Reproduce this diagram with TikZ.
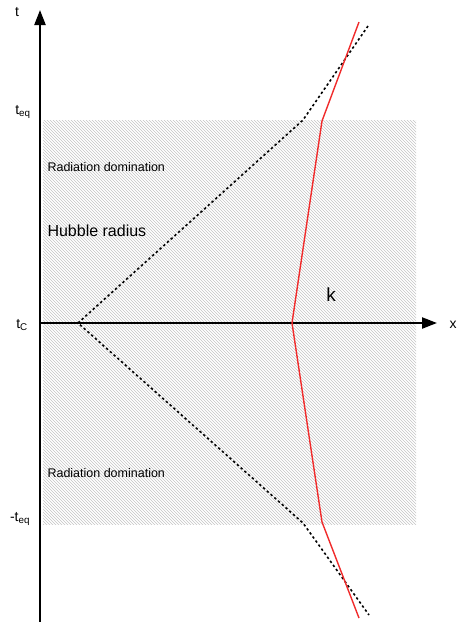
\documentclass[tikz,border=0pt]{standalone}
\usepackage{fontspec}
\setmainfont{Liberation Sans}
\usepackage{xcolor}
\usetikzlibrary{arrows.meta,patterns}
\definecolor{HatchGray}{HTML}{C4C4C4}
\definecolor{ModeRed}{HTML}{F02B2B}

\begin{document}
\begin{tikzpicture}[
    x=1pt,y=-1pt,
    axis/.style={-{Triangle[length=15pt,width=11pt]},line width=2.3pt,draw=black},
    horizon/.style={line width=1.6pt,dash pattern=on 2.4pt off 2.6pt,draw=black},
    mode/.style={line width=1.4pt,draw=ModeRed},
    era/.style={pattern=north west lines,pattern color=HatchGray,draw=none},
    tlabel/.style={font=\fontsize{14}{16}\selectfont,anchor=center},
    small/.style={font=\fontsize{12.5}{14}\selectfont,anchor=west}
  ]
    \useasboundingbox (0,0) rectangle (458,622);

    % Shaded radiation era.
    \node[era,minimum width=373pt,minimum height=404pt,inner sep=0pt,
      anchor=north west] (radiation) at (43,120) {};

    % Axes.
    \coordinate (tbottom) at (40,622);
    \coordinate (ttop) at (40,10);
    \coordinate (xleft) at (41,323);
    \coordinate (xright) at (437,323);
    \draw[axis] (tbottom) -- (ttop);
    \draw[axis] (xleft) -- (xright);
    \node[tlabel] (tname) at (17,12) {t};
    \node[tlabel] (xname) at (453,325) {x};
    \node[tlabel] (teq) at (23,112) {t\textsubscript{eq}};
    \node[tlabel] (tc) at (22,325) {t\textsubscript{C}};
    \node[tlabel] (mteq) at (20,519) {-t\textsubscript{eq}};

    % Hubble radius.
    \coordinate (hubtop) at (368,26);
    \coordinate (hubup) at (303,120);
    \coordinate (hubmid) at (78,323);
    \coordinate (hubdown) at (303,523);
    \coordinate (hubbot) at (369,615);
    \draw[horizon] (hubtop) -- (hubup) -- (hubmid) -- (hubdown) -- (hubbot);

    % Mode k.
    \coordinate (ktop) at (359,22);
    \coordinate (kup) at (322,121);
    \coordinate (kmid) at (292,323);
    \coordinate (kdown) at (322,522);
    \coordinate (kbot) at (359,618);
    \draw[mode] (ktop) -- (kup) -- (kmid) -- (kdown) -- (kbot);

    % Labels.
    \node[small] (radup) at (44,167) {Radiation domination};
    \node[small] (raddown) at (44,473) {Radiation domination};
    \node[anchor=west,font=\fontsize{16}{18}\selectfont] (hubble) at (44,231)
      {Hubble radius};
    \node[font=\fontsize{19}{21}\selectfont] (kname) at (331,295) {k};
  \end{tikzpicture}
\end{document}
